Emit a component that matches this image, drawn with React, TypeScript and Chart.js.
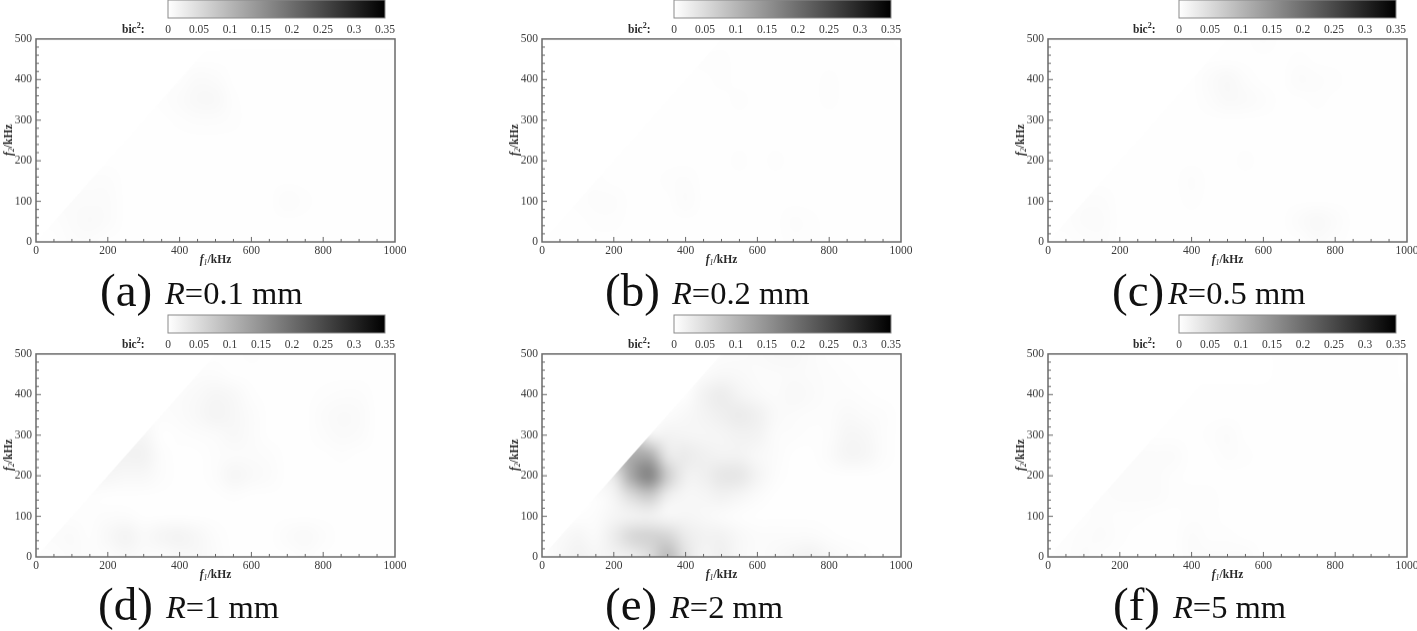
import React, { useEffect, useRef } from "react";
import { Chart, registerables } from "chart.js";
Chart.register(...registerables);

// bic² × 1000 on a grid: rows are f2 = 0, 50 … 500 kHz; columns are f1 = 0, 50 … 1000 kHz
const f1Values = [0,50,100,150,200,250,300,350,400,450,500,550,600,650,700,750,800,850,900,950,1000];
const f2Values = [0,50,100,150,200,250,300,350,400,450,500];
const colorbarTicks = [0,0.05,0.1,0.15,0.2,0.25,0.3,0.35];

const gridA = [
  [1,2,4,4,2,1,1,1,1,1,1,1,1,1,1,1,1,1,1,1,1],
  [3,3,6,8,5,1,1,1,1,1,1,1,1,1,2,1,1,1,1,1,1],
  [5,5,5,6,5,1,1,1,1,1,1,1,1,2,5,3,1,1,1,1,1],
  [4,4,4,4,4,1,1,1,1,1,1,1,1,1,1,1,1,1,1,1,1],
  [2,2,2,2,2,1,1,1,1,1,1,1,1,1,1,1,1,1,1,1,1],
  [1,1,1,1,1,1,1,1,1,1,1,1,1,1,1,1,1,1,1,1,1],
  [1,1,1,1,1,1,1,2,3,4,4,3,1,1,1,1,1,1,1,1,1],
  [1,1,1,1,1,1,2,3,6,10,9,3,1,1,1,1,1,1,1,1,1],
  [1,1,1,1,1,1,2,3,3,7,5,1,1,1,1,1,1,1,1,1,1],
  [0,0,0,0,0,0,0,0,1,1,1,1,1,1,1,1,1,1,1,1,1],
  [0,0,0,0,0,0,0,0,0,0,0,0,0,0,0,0,0,0,0,0,0],
];
const gridB = [
  [1,1,2,2,1,1,1,1,1,1,1,1,1,1,3,3,1,1,1,1,1],
  [2,2,2,3,3,1,1,1,1,1,1,1,1,2,4,3,1,1,1,1,1],
  [2,2,3,4,4,2,1,2,6,2,1,1,1,1,1,1,1,1,1,1,1],
  [3,3,3,3,2,1,1,3,4,2,1,1,1,1,1,1,1,1,1,1,1],
  [1,1,1,1,1,1,1,1,2,1,2,3,2,3,2,1,1,1,1,1,1],
  [1,1,1,1,1,1,2,1,1,1,1,1,1,2,1,1,1,1,1,1,1],
  [1,1,1,1,1,1,2,2,1,1,1,1,1,1,1,1,1,1,1,1,1],
  [1,1,1,1,1,1,1,1,2,2,2,3,2,1,1,1,3,2,1,1,1],
  [1,1,1,1,1,1,1,1,1,2,3,2,1,1,1,2,3,2,1,1,1],
  [1,1,1,1,1,1,1,1,1,3,3,2,1,1,1,1,1,1,1,1,1],
  [0,0,0,0,0,0,0,0,0,0,1,1,1,1,1,1,1,1,1,1,0],
];
const gridC = [
  [1,2,3,4,2,1,1,1,1,1,1,1,1,1,2,5,3,1,1,1,1],
  [3,3,5,5,2,1,1,1,1,1,1,1,1,2,6,9,5,1,1,1,1],
  [3,3,4,4,1,1,2,2,3,1,1,1,1,1,1,1,1,1,1,1,1],
  [1,1,1,1,1,1,1,2,4,2,1,1,1,1,2,1,1,1,1,1,1],
  [1,1,1,1,1,1,1,1,1,1,2,3,1,1,1,1,1,1,1,1,1],
  [1,1,1,1,1,1,1,1,1,1,1,1,1,1,1,1,1,1,1,1,1],
  [1,1,1,1,1,1,1,1,1,1,2,2,2,1,1,1,1,1,1,1,1],
  [1,1,1,1,1,1,1,1,1,4,8,7,4,1,2,3,2,1,1,1,1],
  [1,1,1,1,1,1,1,1,2,6,9,4,1,2,6,4,3,2,1,1,1],
  [1,1,1,1,1,1,1,1,1,2,2,2,1,2,3,2,1,1,1,1,1],
  [0,0,0,0,0,0,0,0,0,0,1,2,4,2,1,1,1,1,1,1,1],
];
const gridD = [
  [2,3,5,4,4,8,5,4,8,9,5,2,1,1,2,4,2,1,1,1,1],
  [5,5,7,3,9,17,8,14,17,11,4,2,1,2,6,8,4,2,1,1,1],
  [4,4,3,3,4,4,2,2,2,2,1,1,1,1,2,2,1,1,1,1,1],
  [4,4,3,3,2,2,2,2,2,2,2,3,2,2,1,1,1,1,1,1,1],
  [12,12,12,12,12,10,10,4,2,2,4,13,8,5,1,1,1,1,1,1,1],
  [18,18,18,18,18,18,18,4,2,2,4,6,5,4,1,1,2,3,2,1,1],
  [13,13,13,13,13,13,13,2,3,4,6,9,6,2,1,1,4,7,6,2,1],
  [2,2,2,2,2,2,4,4,6,9,15,11,6,2,1,2,6,8,7,2,1],
  [1,1,1,1,1,2,2,4,5,8,12,9,3,1,1,2,3,4,4,1,1],
  [0,0,0,0,0,0,0,0,2,4,4,2,1,1,1,1,1,2,1,1,1],
  [0,0,0,0,0,0,0,0,0,0,1,2,3,1,1,1,1,1,1,1,1],
];
const gridE = [
  [0,10,18,12,16,22,45,95,38,14,22,10,5,8,14,18,10,5,3,2,1],
  [7,7,12,7,26,55,62,58,28,18,18,9,5,6,6,5,3,2,1,1,1],
  [2,2,2,4,12,16,18,10,12,9,5,3,2,2,2,2,2,2,1,1,1],
  [3,3,3,3,14,48,70,22,11,12,18,12,5,2,2,2,1,1,1,1,1],
  [20,20,20,20,30,125,175,70,20,20,34,34,15,4,2,2,2,2,2,2,1],
  [70,70,70,70,80,115,115,30,28,20,16,16,10,5,2,2,6,14,12,4,1],
  [12,12,12,12,12,60,15,16,14,12,14,18,16,6,4,3,4,13,11,4,2],
  [4,4,4,4,4,4,4,4,10,15,22,28,20,8,6,4,4,8,6,4,2],
  [2,2,2,2,2,2,2,2,2,18,26,15,8,6,10,7,4,4,3,2,1],
  [0,0,0,0,0,0,0,0,0,6,10,8,6,6,7,6,4,3,2,1,1],
  [0,0,0,0,0,0,0,0,0,0,4,6,7,9,9,6,3,2,2,1,1],
];
const gridF = [
  [2,3,5,3,2,1,1,2,5,5,5,5,2,1,1,1,1,1,1,1,1],
  [3,3,4,5,3,1,1,2,5,3,3,2,1,1,1,1,1,1,1,1,1],
  [3,3,3,4,3,3,2,2,3,3,1,1,1,1,1,1,1,1,1,1,1],
  [4,4,4,4,5,6,5,3,3,3,1,1,1,1,1,1,2,1,1,1,1],
  [5,5,5,5,5,6,5,3,1,1,1,1,1,1,1,1,1,1,1,1,1],
  [5,5,5,5,5,5,5,6,2,1,4,3,1,1,1,1,1,1,1,1,1],
  [3,3,3,3,3,3,2,2,1,3,5,2,1,1,1,1,1,1,2,1,1],
  [1,1,1,1,1,1,1,1,1,1,1,1,1,1,1,1,1,1,1,1,1],
  [0,0,0,0,0,0,0,0,1,1,1,1,1,1,1,1,1,1,1,1,1],
  [0,0,0,0,0,0,0,0,0,0,0,0,0,1,1,1,1,1,1,1,0],
  [0,0,0,0,0,0,0,0,0,0,0,0,0,1,1,1,1,1,1,1,0],
];

const captionLetters = ["(a)","(b)","(c)","(d)","(e)","(f)"];
const captionRadii = ["=0.1 mm","=0.2 mm","=0.5 mm","=1 mm","=2 mm","=5 mm"];
const grids = [gridA,gridB,gridC,gridD,gridE,gridF];

const FONT = '"Liberation Serif"';
const TICKC = "#3a3a3a";
const plotLefts = [36,542,1048,36,542,1048];
const plotTops = [38,38,38,353,353,353];
const barLefts = [168,674,1179,168,674,1179];
const barTops = [0,0,0,315,315,315];
const captionX = [100,605,1112,98,605,1113];
const radiusX = [165,672,1168,166,670,1173];
const captionY = [303,303,303,617,617,617];
const PW = 359, PH = 203.5;

const grey = (v: number) => { const g = Math.round(255 * (1 - v / 350)); return [g, g, g]; };

const heatPlugin = {
  id: "heat",
  beforeDatasetsDraw(chart: any) {
    const pts = chart.data.datasets[0].data as { x: number; y: number; v: number }[];
    const off = document.createElement("canvas");
    const nx = f1Values.length, ny = f2Values.length;
    off.width = nx; off.height = ny;
    const o = off.getContext("2d")!;
    const img = o.createImageData(nx, ny);
    pts.forEach((p) => {
      const c = f1Values.indexOf(p.x), r = ny - 1 - f2Values.indexOf(p.y);
      const [g] = grey(p.v);
      const i = (r * nx + c) * 4;
      img.data[i] = img.data[i + 1] = img.data[i + 2] = g; img.data[i + 3] = 255;
    });
    o.putImageData(img, 0, 0);
    const { x, y } = chart.scales;
    const ctx = chart.ctx;
    ctx.save();
    ctx.beginPath();
    ctx.moveTo(x.getPixelForValue(0), y.getPixelForValue(0));
    ctx.lineTo(x.getPixelForValue(500), y.getPixelForValue(500));
    ctx.lineTo(x.getPixelForValue(1000), y.getPixelForValue(500));
    ctx.lineTo(x.getPixelForValue(1000), y.getPixelForValue(0));
    ctx.closePath();
    ctx.clip();
    ctx.imageSmoothingEnabled = true;
    ctx.imageSmoothingQuality = "high";
    const dx = x.getPixelForValue(0), dy = y.getPixelForValue(500);
    ctx.drawImage(off, 0.5, 0.5, nx - 1, ny - 1, dx, dy, x.getPixelForValue(1000) - dx, y.getPixelForValue(0) - dy);
    ctx.restore();
  },
  afterDatasetsDraw(chart: any) {
    const { x, y } = chart.scales;
    const { left, right, top, bottom } = chart.chartArea;
    const ctx = chart.ctx;
    ctx.save();
    ctx.strokeStyle = "#666";
    ctx.lineWidth = 1;
    ctx.beginPath();
    for (let v = 50; v < 1000; v += 50) {
      const px = x.getPixelForValue(v);
      ctx.moveTo(px, bottom);
      ctx.lineTo(px, bottom - (v % 200 === 0 ? 5 : 3));
    }
    for (let v = 20; v < 500; v += 20) {
      const py = y.getPixelForValue(v);
      ctx.moveTo(left, py);
      ctx.lineTo(left + (v % 100 === 0 ? 5 : 3), py);
    }
    ctx.stroke();
    ctx.strokeStyle = "#6a6a6a";
    ctx.lineWidth = 1.5;
    ctx.strokeRect(left, top, right - left, bottom - top);
    ctx.restore();
  },
};

const barPlugin = {
  id: "bar",
  beforeDatasetsDraw(chart: any) {
    const { x } = chart.scales;
    const { left, right, top, bottom } = chart.chartArea;
    const ctx = chart.ctx;
    const g = ctx.createLinearGradient(x.getPixelForValue(0), 0, x.getPixelForValue(0.35), 0);
    colorbarTicks.forEach((t) => {
      const [c] = grey(t * 1000);
      g.addColorStop(t / 0.35, `rgb(${c},${c},${c})`);
    });
    ctx.save();
    ctx.fillStyle = g;
    ctx.fillRect(left, top, right - left, bottom - top);
    ctx.strokeStyle = "#8a8a8a";
    ctx.lineWidth = 1;
    ctx.strokeRect(left, top, right - left, bottom - top);
    ctx.restore();
  },
};

function Panel({ index }: { index: number }) {
  const ref = useRef<HTMLCanvasElement>(null);
  useEffect(() => {
    const data: { x: number; y: number; v: number }[] = [];
    grids[index].forEach((row, r) => row.forEach((v, c) => data.push({ x: f1Values[c], y: f2Values[r], v })));
    const chart = new Chart(ref.current!, {
      type: "scatter",
      data: { datasets: [{ data, pointRadius: 0, showLine: false }] },
      plugins: [heatPlugin],
      options: {
        animation: false, responsive: false,
        layout: { padding: { top: 10, right: 20 } },
        plugins: { legend: { display: false }, tooltip: { enabled: false } },
        scales: {
          x: {
            type: "linear", min: 0, max: 1000,
            grid: { display: false, drawTicks: false }, border: { display: false },
            afterFit: (s: any) => { s.height = 22; },
            ticks: { stepSize: 200, maxRotation: 0, autoSkip: false, padding: 2, color: TICKC, font: { family: FONT, size: 11.5 }, callback: (v: any) => String(v) },
          },
          y: {
            type: "linear", min: 0, max: 500,
            grid: { display: false, drawTicks: false }, border: { display: false },
            afterFit: (s: any) => { s.width = 34; },
            ticks: { stepSize: 100, autoSkip: false, padding: 4, color: TICKC, font: { family: FONT, size: 11.5 }, callback: (v: any) => String(v) },
          },
        },
      },
    } as any);
    return () => chart.destroy();
  }, [index]);
  return <canvas ref={ref} width={34 + PW + 20} height={10 + PH + 22}
    style={{ position: "absolute", left: plotLefts[index] - 34, top: plotTops[index] - 10, width: 34 + PW + 20, height: 10 + PH + 22 }} />;
}

function Bar({ index }: { index: number }) {
  const ref = useRef<HTMLCanvasElement>(null);
  useEffect(() => {
    const chart = new Chart(ref.current!, {
      type: "scatter",
      data: { datasets: [{ data: colorbarTicks.map((t) => ({ x: t, y: 0 })), pointRadius: 0, showLine: false }] },
      plugins: [barPlugin],
      options: {
        animation: false, responsive: false,
        layout: { padding: { top: 1, right: 20, left: 20 } },
        plugins: { legend: { display: false }, tooltip: { enabled: false } },
        scales: {
          x: {
            type: "linear", min: 0, max: 0.35,
            grid: { display: false, drawTicks: false }, border: { display: false },
            afterBuildTicks: (s: any) => { s.ticks = colorbarTicks.map((value) => ({ value })); },
            afterFit: (s: any) => { s.height = 19; },
            ticks: { maxRotation: 0, autoSkip: false, padding: 5, color: TICKC, font: { family: FONT, size: 11.5 }, callback: (v: any) => String(+Number(v).toFixed(2)) },
          },
          y: { display: false, min: -1, max: 1 },
        },
      },
    } as any);
    return () => chart.destroy();
  }, [index]);
  const w = 217 + 40;
  return <canvas ref={ref} width={w} height={38}
    style={{ position: "absolute", left: barLefts[index] - 20, top: barTops[index] - 1, width: w, height: 38 }} />;
}

const axisTitle: React.CSSProperties = { position: "absolute", fontFamily: FONT, fontWeight: 700, fontSize: 11.5, color: "#2a2a2a", whiteSpace: "nowrap", lineHeight: "12px" };
const subStyle: React.CSSProperties = { fontSize: 8, verticalAlign: "-2px", lineHeight: 0, fontWeight: 400, fontStyle: "italic" };

function Labels({ index }: { index: number }) {
  const L = plotLefts[index], T = plotTops[index];
  return (
    <>
      <div style={{ ...axisTitle, left: L + 179.5, top: T + 215, transform: "translateX(-50%)" }}>
        <i>f</i><span style={subStyle}>1</span>/kHz
      </div>
      <div style={{ ...axisTitle, left: L - 28, top: T + 102, transform: "translate(-50%,-50%) rotate(-90deg)" }}>
        <i>f</i><span style={subStyle}>2</span>/kHz
      </div>
      <div style={{ ...axisTitle, left: barLefts[index] - 46, top: barTops[index] + 23 }}>
        bic<sup style={{ fontSize: 8, lineHeight: 0 }}>2</sup>:
      </div>
      <div style={{ position: "absolute", left: captionX[index], top: captionY[index] - 39, fontFamily: FONT, fontSize: 47, lineHeight: "52px", color: "#111", whiteSpace: "nowrap" }}>
        {captionLetters[index]}
      </div>
      <div style={{ position: "absolute", left: radiusX[index], top: captionY[index] - 28, fontFamily: FONT, fontSize: 32.5, lineHeight: "36px", color: "#111", whiteSpace: "nowrap" }}>
        <i>R</i>{captionRadii[index]}
      </div>
    </>
  );
}

export default function App() {
  return (
    <div style={{ position: "absolute", left: 0, top: 0, width: 1417, height: 631, overflow: "hidden", background: "#fff", filter: "blur(0.45px)" }}>
      {grids.map((_, i) => (
        <React.Fragment key={i}>
          <Panel index={i} />
          <Bar index={i} />
          <Labels index={i} />
        </React.Fragment>
      ))}
    </div>
  );
}
